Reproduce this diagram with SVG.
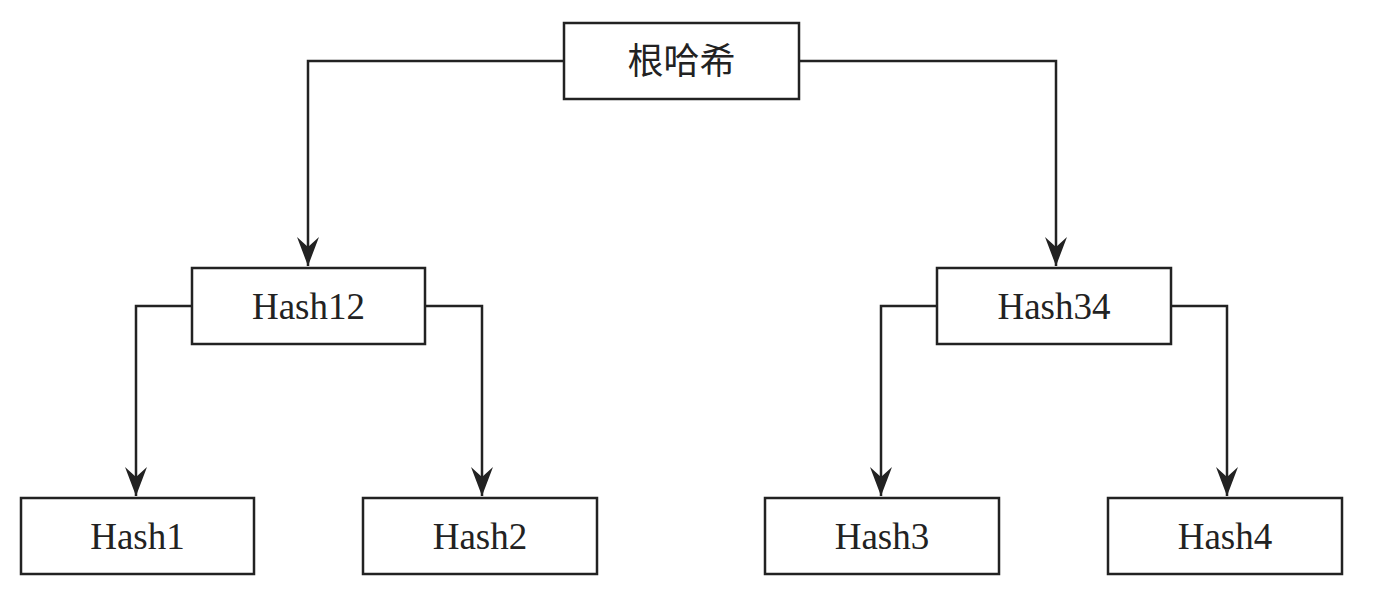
<svg xmlns="http://www.w3.org/2000/svg" width="1376" height="602" viewBox="0 0 1376 602">
<style>
.box{fill:#fff;stroke:#222;stroke-width:2.5}
.lbl{font-family:"Liberation Serif","Times New Roman",serif;font-size:37px;fill:#222;text-anchor:middle}
.cjk{font-family:"Liberation Serif","Noto Sans CJK SC",sans-serif;font-size:36px;fill:#222;text-anchor:middle}
.edge{fill:none;stroke:#222;stroke-width:2.5;marker-end:url(#arr)}
</style>
<defs>
<marker id="arr" markerUnits="userSpaceOnUse" markerWidth="32" markerHeight="24" viewBox="-30 -12 32 24" refX="0" refY="0" orient="auto">
<path d="M0,0 L-29,-11 L-19,0 L-29,11 Z" fill="#222"/>
</marker>
</defs>
<rect width="1376" height="602" fill="#fff"/>
<g id="connectors">
<path class="edge" d="M564,61 H308 V266"/>
<path class="edge" d="M799,61 H1056 V266"/>
<path class="edge" d="M192,306 H136 V496"/>
<path class="edge" d="M425,306 H482 V496"/>
<path class="edge" d="M937,306 H881 V496"/>
<path class="edge" d="M1171,306 H1227 V496"/>
</g>
<g id="root"><rect class="box" x="564" y="23" width="235" height="76"/><text class="cjk" x="681.5" y="74">根哈希</text></g>
<g id="hash12"><rect class="box" x="192" y="268" width="233" height="76"/><text class="lbl" x="308.5" y="319">Hash12</text></g>
<g id="hash34"><rect class="box" x="937" y="268" width="234" height="76"/><text class="lbl" x="1054" y="319">Hash34</text></g>
<g id="hash1"><rect class="box" x="21" y="498" width="233" height="76"/><text class="lbl" x="137.5" y="549">Hash1</text></g>
<g id="hash2"><rect class="box" x="363" y="498" width="234" height="76"/><text class="lbl" x="480" y="549">Hash2</text></g>
<g id="hash3"><rect class="box" x="765" y="498" width="234" height="76"/><text class="lbl" x="882" y="549">Hash3</text></g>
<g id="hash4"><rect class="box" x="1108" y="498" width="234" height="76"/><text class="lbl" x="1225" y="549">Hash4</text></g>
</svg>
